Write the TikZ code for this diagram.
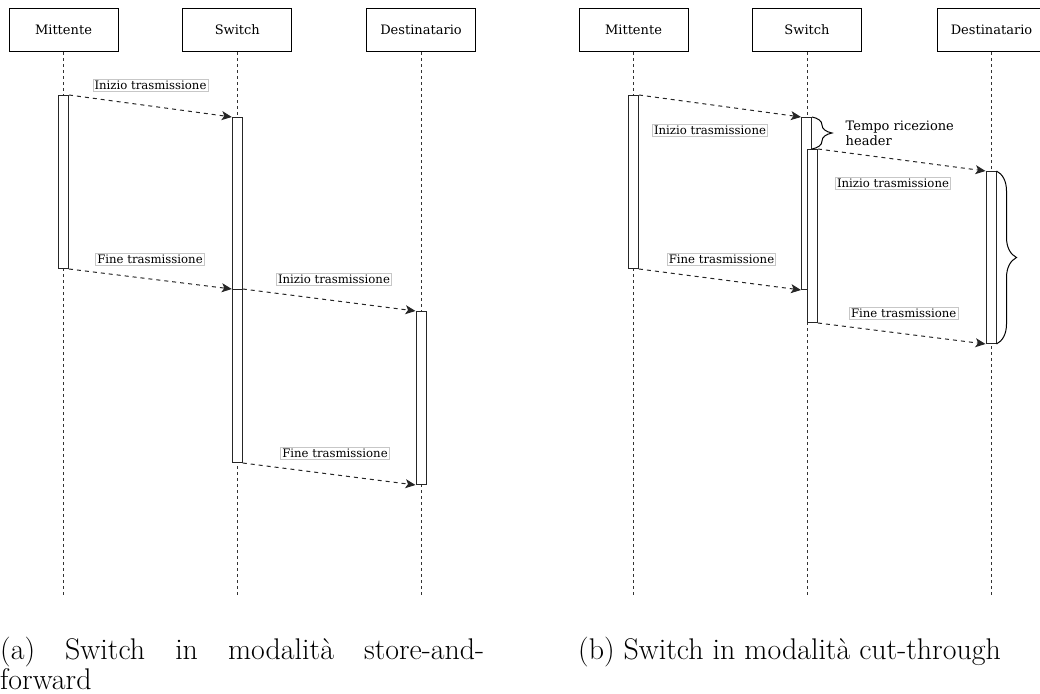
\documentclass[tikz,border=0pt]{standalone}
\usepackage{fontspec}
\newfontfamily\diagfont{DejaVu Serif}
\usetikzlibrary{arrows.meta,decorations.pathreplacing}
\begin{document}
\begin{tikzpicture}[x=1pt,y=-1pt,
  actor/.style={draw=black, line width=1pt, fill=white, minimum width=109pt,
    minimum height=43.5pt, inner sep=0pt, font=\diagfont\fontsize{13}{15}\selectfont},
  life/.style={draw=black!80, line width=1pt, dash pattern=on 3pt off 3pt},
  act/.style={draw=black!85, line width=1pt, fill=white, minimum width=10pt,
    inner sep=0pt, anchor=north},
  msg/.style={draw=black!85, line width=1pt, dash pattern=on 4pt off 4pt,
    -{Stealth[length=10pt,width=9pt,inset=2.5pt]}},
  lbl/.style={draw=black!22, line width=0.7pt, fill=white, inner sep=1.6pt,
    font=\diagfont\fontsize{11.7}{13}\selectfont},
  brc/.style={draw=black, line width=1pt, decorate,
    decoration={brace, amplitude=20pt}},
  caption/.style={inner sep=0pt, font=\fontsize{29.9}{32}\selectfont}
]
\clip (0,0) rectangle (1040,693);
\useasboundingbox (0,0) rectangle (1040,693);

% ---------- (a) store-and-forward ----------
\node[actor] (am) at (63.5,29.8) {Mittente};
\node[actor] (as) at (237.3,29.8) {Switch};
\node[actor] (ad) at (421,29.8) {Destinatario};

\coordinate (amEnd) at (63.5,595);
\coordinate (asEnd) at (237.3,595);
\coordinate (adEnd) at (421,595);
\draw[life] (am.south) -- (amEnd);
\draw[life] (as.south) -- (asEnd);
\draw[life] (ad.south) -- (adEnd);

\node[act, minimum height=173pt] (am1) at (63.5,95) {};
\node[act, minimum height=172pt] (as1) at (237.3,117) {};
\node[act, minimum height=173pt] (as2) at (237.3,289) {};
\node[act, minimum height=173pt] (ad1) at (421,311) {};

\draw[msg] (am1.north east) -- (as1.north west);
\draw[msg] (am1.south east) -- (as2.north west);
\draw[msg] (as2.north east) -- (ad1.north west);
\draw[msg] (as2.south east) -- (ad1.south west);

\node[lbl] (la1) at (150.5,85) {Inizio trasmissione};
\node[lbl] (la2) at (150,259) {Fine trasmissione};
\node[lbl] (la3) at (334,279.5) {Inizio trasmissione};
\node[lbl] (la4) at (335,453) {Fine trasmissione};

% ---------- (b) cut-through ----------
\node[actor] (bm) at (633.5,29.8) {Mittente};
\node[actor] (bs) at (807,29.8) {Switch};
\node[actor] (bd) at (991.5,29.8) {Destinatario};

\coordinate (bmEnd) at (633.5,595);
\coordinate (bsEnd) at (807,595);
\coordinate (bdEnd) at (991.5,595);
\draw[life] (bm.south) -- (bmEnd);
\draw[life] (bs.south) -- (bsEnd);
\draw[life] (bd.south) -- (bdEnd);

\node[act, minimum height=173pt] (bm1) at (633.5,95) {};
\node[act, minimum height=172pt] (bs1) at (806.5,117) {};
\node[act, minimum height=173pt] (bs2) at (812.5,149) {};
\node[act, minimum height=172pt] (bd1) at (991,171) {};

\draw[msg] (bm1.north east) -- (bs1.north west);
\draw[msg] (bs2.north east) -- (bd1.north west);
\draw[msg] (bm1.south east) -- (bs1.south west);
\draw[msg] (bs2.south east) -- (bd1.south west);

\draw[brc] (bs1.north east) -- (bs1.north east |- bs2.north);
\draw[brc] (bd1.north east) -- (bd1.south east);

\node[anchor=west, align=left, inner sep=0pt,
  font=\diagfont\fontsize{13}{15}\selectfont] (thdr) at (845.5,133.5)
  {Tempo ricezione\\header};

\node[lbl] (lb1) at (710,130) {Inizio trasmissione};
\node[lbl] (lb2) at (893,183) {Inizio trasmissione};
\node[lbl] (lb3) at (721.5,259.3) {Fine trasmissione};
\node[lbl] (lb4) at (903.7,313) {Fine trasmissione};

% ---------- captions ----------
\node[caption, anchor=base west] (capa) at (0,659)
  {\hbox to 484pt{(a) Switch in modalità store-and-}};
\node[caption, anchor=base west] (capa2) at (0,689) {forward};
\node[caption, anchor=base west] (capb) at (578,659)
  {(b) Switch in modalità cut-through};
\end{tikzpicture}
\end{document}
